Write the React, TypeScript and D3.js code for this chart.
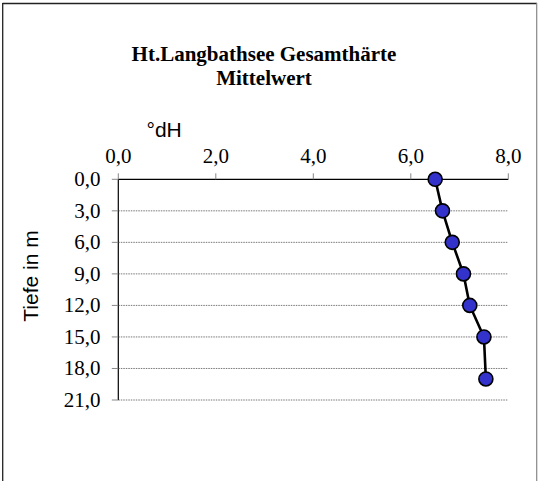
import React from "react";
import * as d3 from "d3";

const depths = [0, 3, 6, 9, 12, 15, 19];
const values = [6.5, 6.65, 6.85, 7.08, 7.21, 7.5, 7.54];
const xTicks = [0, 2, 4, 6, 8];
const yTicks = [0, 3, 6, 9, 12, 15, 18, 21];
const titleLines = ["Ht.Langbathsee Gesamthärte", "Mittelwert"];
const xLabel = "°dH";
const yLabel = "Tiefe in m";

const W = 539;
const H = 481;
const serif = "Liberation Serif, Times New Roman, Times, DejaVu Serif, serif";
const sans = "Liberation Sans, Arial, Helvetica, sans-serif";

export default function App() {
  const x = d3.scaleLinear().domain([0, 8]).range([118.3, 508.3]);
  const y = d3.scaleLinear().domain([0, 21]).range([179.3, 400]);
  const fmt = (v: number) => v.toFixed(1).replace(".", ",");
  const line = d3
    .line<number>()
    .x((_, i) => x(values[i]))
    .y((d) => y(d));

  return (
    <svg
      width={W}
      height={H}
      style={{ position: "absolute", left: 0, top: 0, display: "block", background: "#fff" }}
    >
      <rect x={0} y={0} width={W} height={H} fill="#fff" />
      {/* frame */}
      <line x1={2.5} y1={3.5} x2={537} y2={3.5} stroke="#222" strokeWidth={1.3} />
      <line x1={2.7} y1={3} x2={2.7} y2={H} stroke="#222" strokeWidth={1.3} />
      <line x1={536.7} y1={3} x2={536.7} y2={H} stroke="#888" strokeWidth={1.2} />

      {/* title */}
      {titleLines.map((t, i) => (
        <text
          key={t}
          x={264}
          y={61 + i * 24}
          textAnchor="middle"
          style={{ fontFamily: serif, fontWeight: "bold", fontSize: 21 }}
          fill="#000"
        >
          {t}
        </text>
      ))}

      {/* gridlines */}
      {yTicks
        .filter((t) => t !== 0)
        .map((t) => (
          <line
            key={"g" + t}
            x1={x(0)}
            x2={x(8)}
            y1={y(t)}
            y2={y(t)}
            stroke="#555"
            strokeWidth={0.8}
            strokeDasharray="1.5,1"
          />
        ))}

      {/* x axis (top) */}
      <line x1={x(0)} x2={x(8)} y1={y(0)} y2={y(0)} stroke="#000" strokeWidth={1.2} />
      {xTicks.map((t) => (
        <g key={"x" + t}>
          <line x1={x(t)} x2={x(t)} y1={y(0)} y2={y(0) - 6} stroke="#888" strokeWidth={1} />
          <text
            x={x(t)}
            y={162.5}
            textAnchor="middle"
            style={{ fontFamily: serif, fontSize: 21 }}
            fill="#000"
          >
            {fmt(t)}
          </text>
        </g>
      ))}

      {/* y axis (left) */}
      <line x1={x(0)} x2={x(0)} y1={y(0)} y2={y(21)} stroke="#000" strokeWidth={1.2} />
      {yTicks.map((t) => (
        <g key={"y" + t}>
          <line x1={x(0) - 6.5} x2={x(0)} y1={y(t)} y2={y(t)} stroke="#888" strokeWidth={1} />
          <text
            x={100.5}
            y={y(t) + 7}
            textAnchor="end"
            style={{ fontFamily: serif, fontSize: 21 }}
            fill="#000"
          >
            {fmt(t)}
          </text>
        </g>
      ))}

      {/* axis titles */}
      <text x={146.5} y={137} style={{ fontFamily: sans, fontSize: 21 }} fill="#000">
        {xLabel}
      </text>
      <text
        transform={`translate(37.5, 276) rotate(-90)`}
        textAnchor="middle"
        style={{ fontFamily: sans, fontSize: 21 }}
        fill="#000"
      >
        {yLabel}
      </text>

      {/* series */}
      <path d={line(depths) || ""} fill="none" stroke="#000" strokeWidth={2.6} />
      {depths.map((d, i) => (
        <circle
          key={"p" + d}
          cx={x(values[i])}
          cy={y(d)}
          r={7}
          fill="#3333CC"
          stroke="#000"
          strokeWidth={1.6}
        />
      ))}
    </svg>
  );
}
